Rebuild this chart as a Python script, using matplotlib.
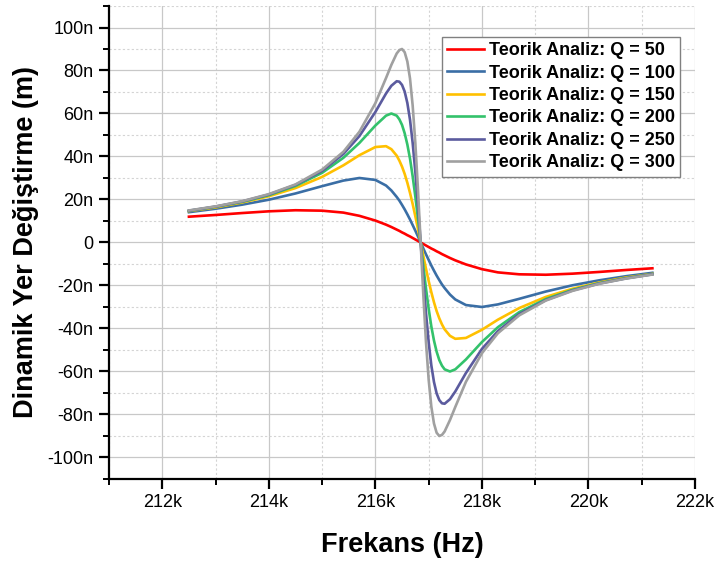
import matplotlib.pyplot as plt
from matplotlib.ticker import MultipleLocator, FuncFormatter

plt.rcParams['font.family'] = ['Liberation Sans', 'DejaVu Sans']

# Frekans (kHz)
freq = [212.5, 213.0, 213.5, 214.0, 214.5, 215.0, 215.4, 215.7, 216.0, 216.2,
        216.3, 216.4, 216.45, 216.5, 216.55, 216.6, 216.65, 216.7, 216.75, 216.8,
        216.85,
        216.9, 216.95, 217.0, 217.05, 217.1, 217.15, 217.2, 217.25, 217.3, 217.4,
        217.5, 217.7, 218.0, 218.3, 218.7, 219.2, 219.7, 220.2, 220.7, 221.2]

# Dinamik yer degistirme (nm)
q50 = [12.0, 12.8, 13.7, 14.5, 15.0, 14.8, 13.9, 12.4, 10.2, 8.3,
       7.2, 6.0, 5.4, 4.7, 4.1, 3.4, 2.8, 2.1, 1.4, 0.7,
       0.0,
       -0.7, -1.4, -2.1, -2.8, -3.4, -4.1, -4.7, -5.4, -6.0, -7.2,
       -8.3, -10.2, -12.4, -13.9, -14.8, -15.0, -14.5, -13.7, -12.8, -12.0]
q100 = [14.1, 15.7, 17.6, 19.9, 22.8, 26.2, 28.8, 30.0, 29.1, 26.5,
        24.2, 21.2, 19.5, 17.5, 15.4, 13.1, 10.7, 8.1, 5.5, 2.8,
        0.0,
        -2.8, -5.5, -8.1, -10.7, -13.1, -15.4, -17.5, -19.5, -21.2, -24.2,
        -26.5, -29.1, -30.0, -28.8, -26.2, -22.8, -19.9, -17.6, -15.7, -14.1]
q150 = [14.6, 16.3, 18.6, 21.5, 25.3, 30.5, 35.9, 40.6, 44.4, 44.8,
        43.4, 40.4, 38.1, 35.3, 31.9, 27.8, 23.1, 17.9, 12.2, 6.2,
        0.0,
        -6.2, -12.2, -17.9, -23.1, -27.8, -31.9, -35.3, -38.1, -40.4, -43.4,
        -44.8, -44.4, -40.6, -35.9, -30.5, -25.3, -21.5, -18.6, -16.3, -14.6]
q200 = [14.7, 16.6, 18.9, 22.0, 26.3, 32.4, 39.4, 46.3, 54.4, 59.0,
        60.0, 59.0, 57.3, 54.7, 50.8, 45.6, 39.0, 30.8, 21.4, 11.0,
        0.0,
        -11.0, -21.4, -30.8, -39.0, -45.6, -50.8, -54.7, -57.3, -59.0, -60.0,
        -59.0, -54.4, -46.3, -39.4, -32.4, -26.3, -22.0, -18.9, -16.6, -14.7]
q250 = [14.8, 16.7, 19.1, 22.3, 26.8, 33.3, 41.2, 49.5, 60.7, 69.3,
        72.9, 75.0, 74.8, 73.3, 70.2, 64.9, 57.1, 46.3, 32.8, 17.1,
        0.0,
        -17.1, -32.8, -46.3, -57.1, -64.9, -70.2, -73.3, -74.8, -75.0, -72.9,
        -69.3, -60.7, -49.5, -41.2, -33.3, -26.8, -22.3, -19.1, -16.7, -14.8]
q300 = [14.9, 16.8, 19.2, 22.5, 27.0, 33.9, 42.2, 51.5, 64.8, 76.5,
        82.6, 87.9, 89.5, 90.0, 88.5, 84.2, 76.3, 63.7, 46.3, 24.4,
        0.0,
        -24.4, -46.3, -63.7, -76.3, -84.2, -88.5, -90.0, -89.5, -87.9, -82.6,
        -76.5, -64.8, -51.5, -42.2, -33.9, -27.0, -22.5, -19.2, -16.8, -14.9]

series = [q50, q100, q150, q200, q250, q300]
labels = ["Teorik Analiz: Q = 50", "Teorik Analiz: Q = 100", "Teorik Analiz: Q = 150",
          "Teorik Analiz: Q = 200", "Teorik Analiz: Q = 250", "Teorik Analiz: Q = 300"]
colors = ["#FF0000", "#3A6EA5", "#FFC000", "#33C26B", "#5B5B9E", "#A0A0A0"]

fig = plt.figure(figsize=(7.2, 5.61), dpi=100)
ax = fig.add_axes([0.1514, 0.1462, 0.8139, 0.8431])

for y, lab, c in zip(series, labels, colors):
    ax.plot(freq, y, color=c, lw=1.9, label=lab)

ax.set_xlim(211, 222)
ax.set_ylim(-110, 110)
ax.xaxis.set_major_locator(MultipleLocator(2))
ax.xaxis.set_minor_locator(MultipleLocator(1))
ax.yaxis.set_major_locator(MultipleLocator(20))
ax.yaxis.set_minor_locator(MultipleLocator(10))
ax.xaxis.set_major_formatter(FuncFormatter(lambda v, p: f"{v:g}k"))
ax.yaxis.set_major_formatter(FuncFormatter(lambda v, p: "0" if abs(v) < 1e-9 else f"{v:g}n"))

ax.grid(True, which="major", color="#C8C8C8", lw=0.9, ls="-")
ax.grid(True, which="minor", color="#D4D4D4", lw=0.8, ls=(0, (2, 2)))
ax.set_axisbelow(True)

ax.spines["top"].set_visible(False)
ax.spines["right"].set_visible(False)
ax.spines["left"].set_linewidth(1.6)
ax.spines["bottom"].set_linewidth(1.6)
ax.tick_params(which="major", direction="out", length=7, width=1.6, labelsize=13, pad=4)
ax.tick_params(which="minor", direction="out", length=4, width=1.4)

ax.set_xlabel("Frekans (Hz)", fontsize=19.5, fontweight="bold", labelpad=15)
ax.set_ylabel("Dinamik Yer Değiştirme (m)", fontsize=19.5, fontweight="bold", labelpad=6)

leg = ax.legend(loc="upper right", bbox_to_anchor=(0.975, 0.935), borderaxespad=0,
                prop={"weight": "bold", "size": 13}, handlelength=2.0,
                handletextpad=0.3, labelspacing=0.3, borderpad=0.3,
                fancybox=False, framealpha=1, edgecolor="#808080")
leg.get_frame().set_linewidth(1.0)

fig.savefig("out.png", dpi=100)
